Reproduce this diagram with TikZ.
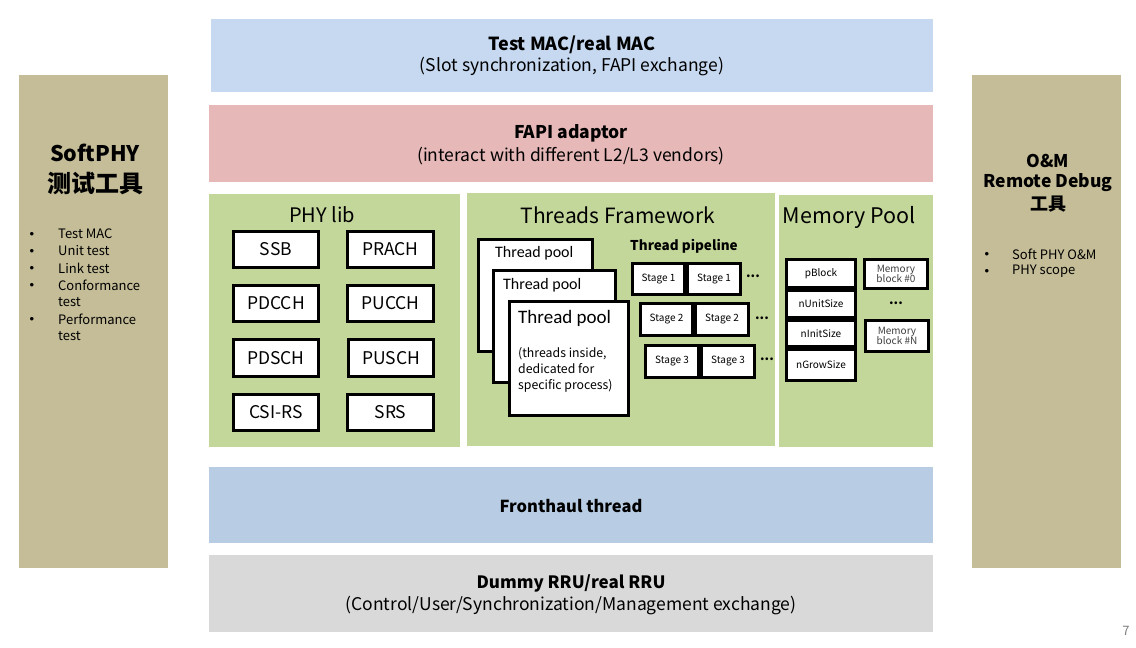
\documentclass[tikz,border=0pt]{standalone}
\usepackage{fontspec}
\setmainfont{Noto Sans CJK SC}
\newfontfamily\calfont{Carlito}
\newfontfamily\bulfont{Liberation Sans}
\definecolor{cmac}{HTML}{C6D9F0}
\definecolor{cfapi}{HTML}{E6B8B7}
\definecolor{cgreen}{HTML}{C4D79B}
\definecolor{cfh}{HTML}{B8CCE4}
\definecolor{crru}{HTML}{D9D9D9}
\definecolor{ctan}{HTML}{C4BD97}
\newcommand{\fs}[1]{\fontsize{#1}{#1}\selectfont}
\begin{document}
\begin{tikzpicture}[x=1pt,y=-1pt,
  band/.style={draw=none,inner sep=0pt},
  wbox/.style={draw=black,line width=2.6pt,fill=white,inner sep=0pt},
  lbl/.style={inner sep=0pt,align=center},
  blt/.style={inner sep=0pt,anchor=west,font=\fs{13}},
  bdot/.style={inner sep=0pt,font=\bulfont\fs{13}},
]
\useasboundingbox (0,0) rectangle (1136,648);
% side panels
\fill[ctan] (19,75) rectangle (168,568);
\fill[ctan] (972,75) rectangle (1121,568);
\node[lbl,font=\fs{21.5}\bfseries] (sp1) at (95,153) {SoftPHY};
\node[lbl,font=\fs{24}\bfseries] (sp2) at (95,183) {测试工具};
\foreach \t/\y [count=\i] in {Test MAC/234,Unit test/251,Link test/268,Conformance/285,Performance/319}{
  \node[bdot] (lb\i) at (32,\y+1.5) {•};
  \node[blt] (lt\i) at (58,\y) {\t};
}
\node[blt] (lt6) at (58,302) {test};
\node[blt] (lt7) at (58,336) {test};
\node[lbl,font=\fs{17.5}\bfseries] (om1) at (1048,161) {O\&M};
\node[lbl,font=\fs{17.5}\bfseries] (om2) at (1048,183) {Remote Debug};
\node[lbl,font=\fs{18}\bfseries] (om3) at (1048,204) {工具};
\node[bdot] (rb1) at (987,255.5) {•};
\node[blt] (rt1) at (1012,254) {Soft PHY O\&M};
\node[bdot] (rb2) at (987,272.5) {•};
\node[blt] (rt2) at (1012,271) {PHY scope};
% top bands
\fill[cmac] (211,19) rectangle (933,92);
\node[lbl,font=\fs{18}\bfseries] (mac1) at (572,45) {Test MAC/real MAC};
\node[lbl,font=\fs{17.5}] (mac2) at (572,67) {(Slot synchronization, FAPI exchange)};
\fill[cfapi] (209,105) rectangle (933,182);
\node[lbl,font=\fs{17.5}\bfseries] (fa1) at (571,133) {FAPI adaptor};
\node[lbl,font=\fs{17.5}] (fa2) at (571,156) {(interact with different L2/L3 vendors)};
% bottom bands
\fill[cfh] (209,467) rectangle (933,543);
\node[lbl,font=\fs{16.5}\bfseries] (fh) at (571,506) {Fronthaul thread};
\fill[crru] (209,555) rectangle (933,632);
\node[lbl,font=\fs{17}\bfseries] (rr1) at (571,583) {Dummy RRU/real RRU};
\node[lbl,font=\fs{17.5}] (rr2) at (571,606) {(Control/User/Synchronization/Management exchange)};
\node[lbl,font=\fs{13},text=gray] (pg) at (1126,631) {7};
% green panels
\fill[cgreen] (209,194) rectangle (460,447);
\fill[cgreen] (467,193) rectangle (775,446);
\fill[cgreen] (779,195) rectangle (933,447);
% PHY lib
\node[lbl,font=\fs{20}] (phy) at (322,215) {PHY lib};
\foreach \n/\t/\x/\y in {ssb/SSB/276/249.5,prach/PRACH/390.5/249.5,pdcch/PDCCH/276/303.5,pucch/PUCCH/390.5/303.5,pdsch/PDSCH/276/358,pusch/PUSCH/391/358,csirs/CSI-RS/276/412.5,srs/SRS/390.5/412.5}{
  \node[wbox,minimum width=85.5pt,minimum height=36.5pt,font=\fs{17.5}] (\n) at (\x,\y) {\t};
}
% Threads framework
\node[lbl,font=\fs{21}] (thf) at (618,215) {Threads Framework};
\node[wbox,minimum width=114.5pt,minimum height=112.5pt] (tp1) at (535.5,295.5) {};
\node[lbl,anchor=west,font=\calfont\fs{16}] (tp1t) at (495,253) {Thread pool};
\node[wbox,minimum width=122.5pt,minimum height=112.5pt] (tp2) at (554.5,326.5) {};
\node[lbl,anchor=west,font=\calfont\fs{16}] (tp2t) at (503,285) {Thread pool};
\node[wbox,minimum width=119.5pt,minimum height=114.5pt] (tp3) at (569,358.5) {};
\node[lbl,anchor=west,font=\calfont\fs{19}] (tp3t) at (518,318) {Thread pool};
\node[lbl,anchor=north west,align=left,font=\fontsize{12.3}{16}\selectfont] (tp3d) at (518,347) {(threads inside,\\dedicated for\\specific process)};
\node[lbl,font=\fs{13.5}\bfseries] (pipe) at (684,246) {Thread pipeline};
\foreach \n/\t/\x/\y/\w/\h in {s11/Stage 1/658.5/279/52.5/31.5,s12/Stage 1/714/279/53.5/31.5,
  s21/Stage 2/666.5/319.5/52.5/32.5,s22/Stage 2/722/319.5/53.5/32.5,
  s31/Stage 3/672/361.5/53.5/32.5,s32/Stage 3/728/361.5/53.5/32.5}{
  \node[wbox,minimum width=\w pt,minimum height=\h pt,font=\fs{10}] (\n) at (\x,\y) {\t};
}
\node[lbl,font=\fs{13}\bfseries] (d1) at (753,276) {...};
\node[lbl,font=\fs{13}\bfseries] (d2) at (762,318) {...};
\node[lbl,font=\fs{13}\bfseries] (d3) at (767,359) {...};
% Memory pool
\node[lbl,font=\fs{21.5}] (mp) at (849,217) {Memory Pool};
\foreach \n/\t/\y/\h in {pb/pBlock/273.5/28.5,nu/nUnitSize/304/27.5,ni/nInitSize/333.5/26.5,ng/nGrowSize/365/31.5}{
  \node[wbox,minimum width=69.5pt,minimum height=\h pt,font=\fs{10}] (\n) at (821,\y) {\t};
}
\node[wbox,minimum width=63.5pt,minimum height=29.5pt,font=\fs{10},align=center,text=black!75] (mb0) at (896,274) {Memory\\[-1pt]block \#0};
\node[wbox,minimum width=63.5pt,minimum height=31.5pt,font=\fs{10},align=center,text=black!75] (mbn) at (897,336) {Memory\\[-1pt]block \#N};
\node[lbl,font=\fs{13}\bfseries] (md) at (896,303) {...};
\end{tikzpicture}
\end{document}
